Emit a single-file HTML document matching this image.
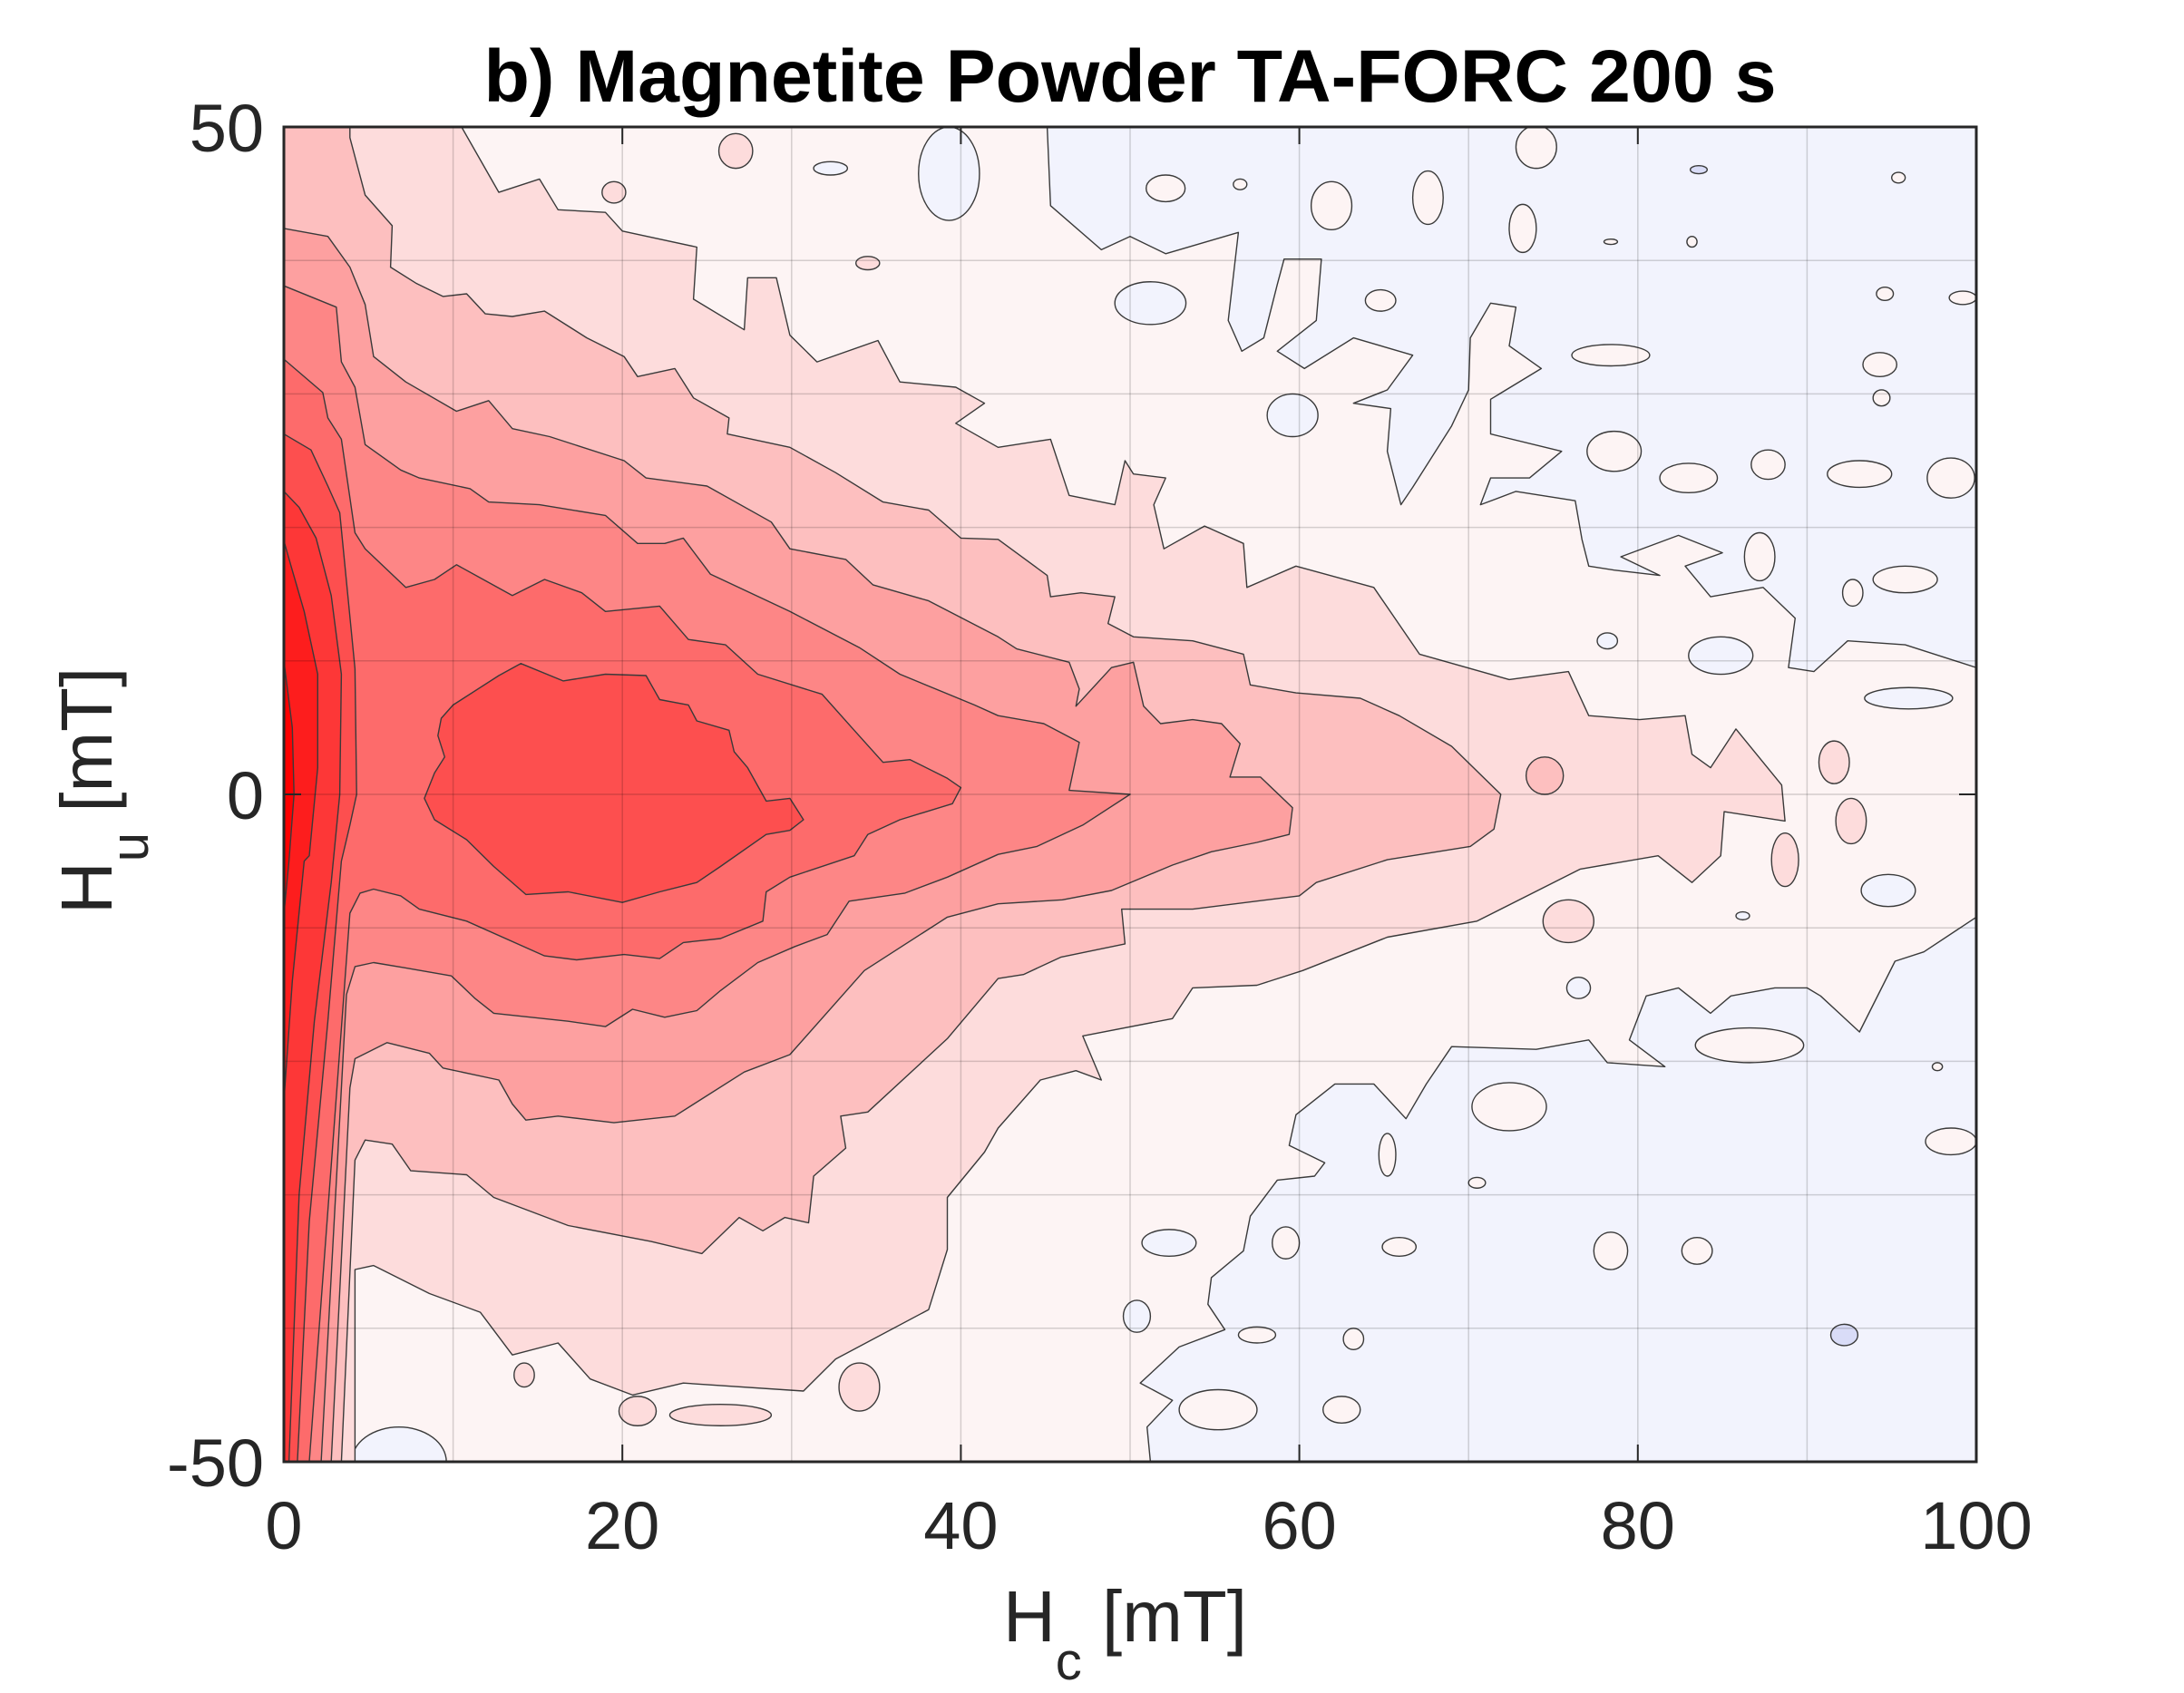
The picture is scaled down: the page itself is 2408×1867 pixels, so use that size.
<!DOCTYPE html>
<html><head><meta charset="utf-8">
<style>
html,body{margin:0;padding:0;background:#fff;}
svg{display:block;}
text{font-family:"Liberation Sans",Arial,sans-serif;fill:#262626;}
</style></head>
<body>
<svg id="chart" width="2408" height="1867" viewBox="0 0 2408 1867" xmlns="http://www.w3.org/2000/svg">
<defs><clipPath id="plotclip"><rect x="313" y="140" width="1866" height="1472"/></clipPath></defs>
<rect x="0" y="0" width="2408" height="1867" fill="#fff"/>
<g id="contours" clip-path="url(#plotclip)"></g>
<g id="grid"></g>
<g id="axes"></g>
<text x="1246" y="112" text-anchor="middle" font-weight="bold" font-size="82" textLength="1425" lengthAdjust="spacingAndGlyphs" style="fill:#000">b) Magnetite Powder TA-FORC 200 s</text>
<text x="1106" y="1810" font-size="80">H<tspan font-size="58" dy="42">c</tspan><tspan dy="-42"> [mT]</tspan></text>
<text transform="translate(123,1008) rotate(-90)" x="0" y="0" font-size="80">H<tspan font-size="58" dy="40">u</tspan><tspan dy="-40"> [mT]</tspan></text>
</svg>
<script>
// ---- data (Hc, Hu in mT) ----
const xTicks = [0, 20, 40, 60, 80, 100];
const yTicks = [-50, 0, 50];
const levelColors = ["#fddcdc", "#fdbfbf", "#fda0a0", "#fd8686", "#fd6b6b", "#fd4f4f", "#fd3737", "#fd1d1d", "#ff0000"];
const blueTop = [[45.1,50],[45.3,44.1],[48.3,40.8],[50,41.8],[52.1,40.5],[56.4,42.1],[55.8,35.5],[56.6,33.2],[57.9,34.2],[58.7,38.2],[59.1,40.1],[61.3,40.1],[61,35.5],[58.7,33.2],[60.3,31.9],[63.2,34.2],[66.7,32.9],[65.2,30.3],[63.2,29.3],[65.4,28.9],[65.2,25.7],[66,21.7],[66.7,23],[69,27.6],[70,30.3],[70.1,34.2],[71.3,36.8],[72.8,36.5],[72.4,33.6],[74.3,31.9],[71.3,29.6],[71.3,27],[75.5,25.7],[73.6,23.7],[71.3,23.7],[70.7,21.7],[72.8,22.7],[76.3,22],[76.7,19.1],[77.1,17.1],[78.6,16.8],[81.3,16.4],[79,17.8],[82.4,19.4],[85,18.1],[82.8,17.1],[84.3,14.8],[87.4,15.5],[89.3,13.2],[88.9,9.5],[90.4,9.2],[92.4,11.5],[95.8,11.2],[100,9.5],[100,50]];
const blueBottom = [[100,-9.2],[96.9,-11.8],[95.2,-12.5],[93.1,-17.8],[90.8,-15.1],[90,-14.5],[88.1,-14.5],[85.5,-15.1],[84.3,-16.4],[82.4,-14.5],[80.5,-15.1],[79.5,-18.4],[81.6,-20.4],[78.2,-20.1],[77.1,-18.4],[74,-19.1],[69,-18.9],[67.5,-21.7],[66.3,-24.3],[64.4,-21.7],[62.1,-21.7],[59.8,-24],[59.4,-26.3],[61.5,-27.6],[60.9,-28.6],[58.7,-28.9],[57.1,-31.6],[56.7,-34.2],[54.8,-36.2],[54.6,-38.2],[55.6,-40.1],[52.9,-41.4],[50.6,-44.1],[52.5,-45.4],[51,-47.4],[51.2,-50],[100,-50]];
const level1 = [[0,50],[10.5,50],[12.7,45.1],[15.1,46.1],[16.2,43.8],[19,43.6],[20,42.2],[24.4,41],[24.2,37.1],[27.2,34.8],[27.4,38.7],[29.1,38.7],[29.9,34.4],[31.5,32.4],[35.1,34],[36.4,30.9],[39.7,30.5],[41.4,29.3],[39.7,27.8],[42.2,26],[45.3,26.6],[46.4,22.4],[49.1,21.7],[49.7,25],[50.2,24],[52.1,23.7],[51.4,21.7],[52,18.4],[54.4,20.1],[56.7,18.8],[56.9,15.5],[59.8,17.1],[64.4,15.5],[67.1,10.5],[72.4,8.6],[75.9,9.2],[77.1,5.9],[80.1,5.6],[82.8,5.9],[83.2,3],[84.3,2],[85.8,4.9],[88.5,0.7],[88.7,-2],[85.1,-1.3],[84.9,-4.6],[83.2,-6.6],[81.2,-4.6],[76.6,-5.6],[70.5,-9.5],[65.2,-10.7],[60.2,-13.2],[57.5,-14.3],[53.7,-14.5],[52.5,-16.8],[47.2,-18.1],[48.3,-21.4],[46.8,-20.7],[44.7,-21.4],[42.2,-25],[41.4,-26.8],[39.2,-30.2],[39.2,-34.1],[38.1,-38.6],[32.6,-42.3],[30.7,-44.7],[23.6,-44.1],[20.6,-45],[18.1,-43.8],[16.2,-41.1],[13.5,-42],[11.6,-38.8],[8.6,-37.4],[5.3,-35.3],[4.2,-35.6],[4.2,-50],[0,-50]];
const level2 = [[0,50],[3.9,50],[3.9,49.2],[4.8,44.9],[6.4,42.6],[6.3,39.5],[7.8,38.3],[9.4,37.3],[10.8,37.5],[11.9,36],[13.5,35.8],[15.4,36.2],[17.9,34.2],[20.1,32.8],[20.9,31.3],[23.1,31.9],[24.2,29.7],[26.3,28.2],[26.2,27],[29.9,26],[32.6,24.1],[35.4,21.9],[38.1,21.3],[40,19.2],[42.2,19.1],[45.1,16.4],[45.3,14.8],[47.1,15.1],[49.1,14.8],[48.7,12.8],[50.2,11.8],[53.7,11.5],[56.7,10.5],[57.1,8.2],[59.8,7.6],[63.6,7.2],[65.9,5.9],[69,3.6],[71.9,0],[71.5,-2.6],[70.1,-3.9],[65.2,-4.9],[61,-6.6],[60,-7.6],[53.7,-8.6],[49.5,-8.6],[49.7,-11.2],[45.9,-12.2],[43.7,-13.5],[42.2,-13.8],[39.2,-18.3],[34.5,-23.8],[32.9,-24.1],[33.2,-26.5],[31.3,-28.6],[31,-32.1],[29.6,-31.7],[28.3,-32.7],[26.9,-31.7],[24.7,-34.4],[21.7,-33.5],[16.8,-32.3],[12.4,-30.2],[10.8,-28.5],[7.5,-28.2],[6.4,-26.2],[4.8,-25.9],[4.2,-27.4],[3.4,-50],[0,-50]];
const level3 = [[0,42.4],[2.6,41.8],[3.9,39.5],[4.8,36.7],[5.3,32.8],[7.2,30.9],[10.2,28.7],[12.1,29.5],[13.5,27.4],[15.7,26.8],[20.1,25],[21.4,23.7],[25,23.1],[28.8,20.4],[29.9,18.4],[33.2,17.6],[34.8,15.7],[38.1,14.5],[42.2,11.8],[43.3,10.9],[46.4,9.9],[47,7.9],[46.8,6.6],[48.9,9.5],[50.2,9.9],[50.8,6.6],[51.8,5.3],[53.7,5.6],[55.4,5.3],[56.5,3.8],[55.9,1.3],[57.7,1.3],[59.6,-1],[59.4,-3],[57.5,-3.6],[54.8,-4.3],[52.5,-5.3],[48.9,-7.2],[46,-7.9],[42.2,-8.2],[39.2,-9.2],[34.3,-13.2],[29.9,-19.5],[27.2,-20.8],[23.1,-24.1],[19.5,-24.6],[16.2,-24.1],[14.3,-24.4],[13.5,-23.2],[12.7,-21.4],[9.4,-20.5],[8.6,-19.4],[6.1,-18.6],[4.2,-19.8],[3.9,-22],[2.8,-50],[0,-50]];
const level4 = [[0,38.1],[3.1,36.5],[3.4,32.4],[4.2,30.5],[4.8,26.2],[6.9,24.3],[8,23.7],[11,22.9],[12.1,21.9],[15.1,21.7],[19,20.9],[20.9,18.8],[22.5,18.8],[23.6,19.2],[25.2,16.5],[29.9,13.7],[34,11],[36.4,9],[40.8,6.7],[42.2,5.9],[44.9,5.3],[47,3.9],[46.4,0.3],[50,0],[47.2,-2.3],[44.5,-3.9],[42.2,-4.5],[39.2,-6.2],[36.7,-7.4],[33.4,-8],[32.1,-10.5],[30.2,-11.4],[28,-12.6],[25.8,-14.7],[24.4,-16.2],[22.5,-16.7],[20.6,-16.1],[19,-17.4],[16.8,-17],[12.4,-16.4],[11.3,-15.3],[9.9,-13.6],[7.2,-13],[5.3,-12.6],[4.2,-12.9],[3.7,-15],[2.2,-50],[0,-50]];
const level5 = [[0,32.6],[2.3,30.1],[2.6,28.2],[3.4,26.6],[4.2,19.6],[4.8,18.4],[7.2,15.5],[8.9,16.1],[10.2,17.2],[13.5,14.9],[15.4,16.1],[17.6,15.1],[19,13.7],[22.2,14.1],[23.9,11.6],[26.1,11.2],[28,9],[31.8,7.5],[33.7,4.8],[35.4,2.4],[37,2.6],[39.2,1.2],[40,0.5],[39.5,-0.7],[36.4,-1.9],[34.5,-3],[33.7,-4.6],[29.9,-6.2],[28.5,-7.3],[28.3,-9.5],[25.8,-10.8],[23.6,-11.1],[22.2,-12.3],[20.1,-12],[17.3,-12.4],[15.4,-12.1],[10.8,-9.5],[8,-8.6],[6.9,-7.6],[5.3,-7.1],[4.5,-7.4],[3.9,-8.9],[1.5,-50],[0,-50]];
const level6Strip = [[0,27],[1.6,25.8],[2.6,23.1],[3.3,21.1],[4.2,9.4],[4.3,0],[3.9,-2.3],[3.4,-5],[2.6,-17],[1.5,-32],[0.8,-50],[0,-50]];
const level6Blob = [[9.3,5.7],[10,6.7],[12.7,8.9],[14,9.8],[16.5,8.5],[19,9],[21.4,8.9],[22.2,7.1],[23.9,6.7],[24.4,5.5],[26.3,4.8],[26.6,3.2],[27.4,2],[28.5,-0.5],[29.9,-0.3],[30.7,-1.9],[29.9,-2.7],[28.5,-3],[25.8,-5.4],[24.4,-6.6],[22.2,-7.3],[20,-8.1],[16.8,-7.3],[14.3,-7.5],[12.4,-5.4],[10.8,-3.4],[8.9,-1.9],[8.3,-0.3],[8.9,1.6],[9.5,2.8],[9.1,4.4]];
const level7 = [[0,22.7],[0.9,21.5],[1.9,19.2],[2.8,14.9],[3.4,9],[3.3,0],[2.8,-6.6],[1.8,-17],[0.9,-30],[0.3,-50],[0,-50]];
const level8 = [[0,19],[0.4,17.2],[1.2,13.7],[2,9],[2,2],[1.5,-4.6],[1.2,-5],[0.5,-14],[0,-23]];
const level9 = [[0,10],[0.5,5],[0.6,0],[0.3,-5],[0,-9]];
// islands: [hc, hu, rx, ry]
const pinkIslands = [[52.1,45.4,1.15,1.0],[61.9,44.1,1.2,1.8],[67.6,44.7,0.9,2.0],[73.2,42.4,0.8,1.8],[64.8,37.0,0.9,0.8],[78.4,32.9,2.3,0.8],[94.3,32.2,1.0,0.9],[78.6,25.7,1.6,1.5],[83,23.7,1.7,1.1],[87.7,24.7,1.0,1.1],[93.1,24,1.9,1.0],[98.5,23.7,1.4,1.5],[87.2,17.8,0.9,1.8],[95.8,16.1,1.9,1.0],[92.7,15.1,0.6,1.0],[86.6,-18.8,3.2,1.3],[72.4,-23.4,2.2,1.8],[65.2,-27,0.5,1.6],[59.2,-33.6,0.8,1.2],[65.9,-33.9,1.0,0.7],[78.4,-34.2,1.0,1.4],[83.5,-34.2,0.9,1.0],[57.5,-40.5,1.1,0.6],[63.2,-40.8,0.6,0.8],[55.2,-46.1,2.3,1.5],[62.5,-46.1,1.1,1.0],[98.5,-26,1.5,1.0],[97.7,-20.4,0.3,0.3],[56.5,45.7,0.4,0.4],[95.4,46.2,0.4,0.4],[94.6,37.5,0.5,0.5],[94.4,29.7,0.5,0.6],[99.2,37.2,0.8,0.5],[74,48.5,1.2,1.6],[70.5,-29.1,0.5,0.4],[83.2,41.4,0.3,0.4],[78.4,41.4,0.4,0.2]];
const blueIslands = [[51.2,36.8,2.1,1.6],[59.6,28.4,1.5,1.6],[78.2,11.5,0.6,0.6],[84.9,10.4,1.9,1.4],[96,7.2,2.6,0.8],[94.8,-7.2,1.6,1.2],[76.5,-14.5,0.7,0.8],[52.3,-33.6,1.6,1.0],[50.4,-39.1,0.8,1.2],[86.2,-9.1,0.4,0.3],[39.3,46.5,1.8,3.5],[32.3,46.9,1.0,0.5],[6.8,-50,2.8,2.6]];
const darkBlueIslands = [[92.2,-40.5,0.8,0.8],[83.6,46.8,0.5,0.3]];
const level1Islands = [[91.6,2.4,0.9,1.6],[92.6,-2,0.9,1.7],[88.7,-4.9,0.8,2.0],[75.9,-9.5,1.5,1.6],[26.7,48.2,1.0,1.3],[19.5,45.1,0.7,0.8],[34.5,39.8,0.7,0.5],[14.2,-43.5,0.6,0.9],[20.9,-46.2,1.1,1.1],[25.8,-46.5,3.0,0.8],[34,-44.4,1.2,1.8]];
const level2Islands = [[74.5,1.4,1.1,1.4]];

// ---- scales ----
const X0 = 313, X1 = 2179, Y0 = 140, Y1 = 1612;
function sx(v){ return X0 + (v - 0) / 100 * (X1 - X0); }
function sy(v){ return Y1 - (v + 50) / 100 * (Y1 - Y0); }
const NS = "http://www.w3.org/2000/svg";
const gC = document.getElementById('contours');
const gG = document.getElementById('grid');
const gA = document.getElementById('axes');
const LINE = "#3a3a3a";

function poly(g, pts, fill, name){
  const p = document.createElementNS(NS, 'polygon');
  p.setAttribute('points', pts.map(q => sx(q[0]).toFixed(1) + ',' + sy(q[1]).toFixed(1)).join(' '));
  p.setAttribute('fill', fill);
  p.setAttribute('stroke', LINE);
  p.setAttribute('stroke-width', '1.4');
  p.setAttribute('stroke-linejoin', 'round');
  
  
  g.appendChild(p);
}
function ellipses(g, arr, fill, name){
  arr.forEach(a => {
    const e = document.createElementNS(NS, 'ellipse');
    e.setAttribute('cx', sx(a[0]));
    e.setAttribute('cy', sy(a[1]));
    e.setAttribute('rx', sx(a[2]) - sx(0));
    e.setAttribute('ry', sy(0) - sy(a[3]));
    e.setAttribute('fill', fill);
    e.setAttribute('stroke', LINE);
    e.setAttribute('stroke-width', '1.4');
    
    
    g.appendChild(e);
  });
}
// base
const base = document.createElementNS(NS, 'rect');
base.setAttribute('x', X0); base.setAttribute('y', Y0);
base.setAttribute('width', X1 - X0); base.setAttribute('height', Y1 - Y0);
base.setAttribute('fill', '#fdf4f4');


gC.appendChild(base);
poly(gC, blueTop, '#f2f3fd', 'negative-region-top');
poly(gC, blueBottom, '#f2f3fd', 'negative-region-bottom');
ellipses(gC, blueIslands, '#f2f3fd', 'negative-island');
ellipses(gC, darkBlueIslands, '#d9dcf7', 'negative-island-deep');
ellipses(gC, pinkIslands, '#fdf4f4', 'positive-island');
poly(gC, level1, levelColors[0], 'contour-level-1');
ellipses(gC, level1Islands, levelColors[0], 'contour-level-1-island');
poly(gC, level2, levelColors[1], 'contour-level-2');
ellipses(gC, level2Islands, levelColors[1], 'contour-level-2-island');
poly(gC, level3, levelColors[2], 'contour-level-3');
poly(gC, level4, levelColors[3], 'contour-level-4');
poly(gC, level5, levelColors[4], 'contour-level-5');
poly(gC, level6Strip, levelColors[5], 'contour-level-6-edge');
poly(gC, level6Blob, levelColors[5], 'contour-level-6-peak');
poly(gC, level7, levelColors[6], 'contour-level-7');
poly(gC, level8, levelColors[7], 'contour-level-8');
poly(gC, level9, levelColors[8], 'contour-level-9');

// grid
for (let v = 10; v < 100; v += 10) {
  const l = document.createElementNS(NS, 'line');
  l.setAttribute('x1', sx(v)); l.setAttribute('x2', sx(v));
  l.setAttribute('y1', Y0); l.setAttribute('y2', Y1);
  l.setAttribute('stroke', 'rgba(0,0,0,0.16)'); l.setAttribute('stroke-width', '1.5');
  
  
  gG.appendChild(l);
}
for (let v = -40; v < 50; v += 10) {
  const l = document.createElementNS(NS, 'line');
  l.setAttribute('y1', sy(v)); l.setAttribute('y2', sy(v));
  l.setAttribute('x1', X0); l.setAttribute('x2', X1);
  l.setAttribute('stroke', 'rgba(0,0,0,0.16)'); l.setAttribute('stroke-width', '1.5');
  
  
  gG.appendChild(l);
}
// frame
const fr = document.createElementNS(NS, 'rect');
fr.setAttribute('x', X0); fr.setAttribute('y', Y0);
fr.setAttribute('width', X1 - X0); fr.setAttribute('height', Y1 - Y0);
fr.setAttribute('fill', 'none'); fr.setAttribute('stroke', '#262626'); fr.setAttribute('stroke-width', '3');


gA.appendChild(fr);
const TL = 19;
xTicks.forEach(v => {
  [[Y1, Y1 - TL], [Y0, Y0 + TL]].forEach(s => {
    const t = document.createElementNS(NS, 'line');
    t.setAttribute('x1', sx(v)); t.setAttribute('x2', sx(v));
    t.setAttribute('y1', s[0]); t.setAttribute('y2', s[1]);
    t.setAttribute('stroke', '#262626'); t.setAttribute('stroke-width', '2');
    
    
    gA.appendChild(t);
  });
  const tx = document.createElementNS(NS, 'text');
  tx.setAttribute('x', sx(v)); tx.setAttribute('y', 1708);
  tx.setAttribute('text-anchor', 'middle'); tx.setAttribute('font-size', '74');
  tx.textContent = String(v);
  
  
  gA.appendChild(tx);
});
yTicks.forEach(v => {
  [[X0, X0 + TL], [X1, X1 - TL]].forEach(s => {
    const t = document.createElementNS(NS, 'line');
    t.setAttribute('y1', sy(v)); t.setAttribute('y2', sy(v));
    t.setAttribute('x1', s[0]); t.setAttribute('x2', s[1]);
    t.setAttribute('stroke', '#262626'); t.setAttribute('stroke-width', '2');
    
    
    gA.appendChild(t);
  });
  const tx = document.createElementNS(NS, 'text');
  tx.setAttribute('x', 291); tx.setAttribute('y', sy(v) + 27);
  tx.setAttribute('text-anchor', 'end'); tx.setAttribute('font-size', '74');
  tx.textContent = String(v);
  
  
  gA.appendChild(tx);
});
</script>
</body></html>
